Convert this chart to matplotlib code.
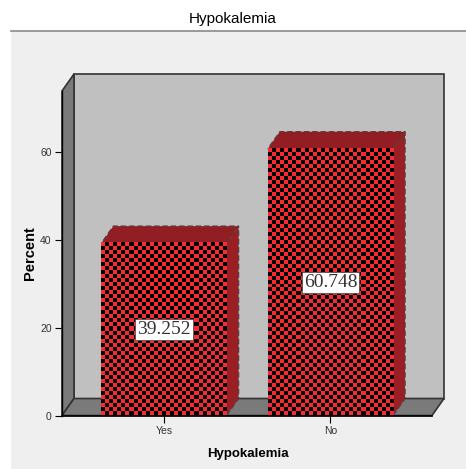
import matplotlib
matplotlib.use("Agg")
import matplotlib.pyplot as plt
import numpy as np
from matplotlib.patches import Polygon, Rectangle

plt.rcParams["font.family"] = ["Liberation Sans", "DejaVu Sans"]

categories = ["Yes", "No"]
percents = [39.252, 60.748]
y_ticks = [0, 20, 40, 60]
title = "Hypokalemia"

W, H = 466, 469
# front plane of the 3D box, in pixels from the top left
LEFT, RIGHT, TOP, BOTTOM = 62, 432, 91, 415.5
BAR_W = 0.752
XLIM = (-0.6126, 1.61)
YMAX = 73.9
DX = 12 / (RIGHT - LEFT) * (XLIM[1] - XLIM[0])
DY = 17 / (BOTTOM - TOP) * YMAX

fig = plt.figure(figsize=(W / 100, H / 100), dpi=100, facecolor="white")
fig.add_artist(Rectangle((11 / W, 0), 1 - 11 / W, 1 - 31 / H, transform=fig.transFigure,
                         facecolor="#efefef", edgecolor="none", zorder=-2))
fig.add_artist(plt.Line2D([11 / W, 1], [1 - 31 / H] * 2, color="#8a8a8a", lw=1.2, zorder=-1))
fig.text(233 / W, 1 - 19 / H, title, ha="center", va="center", fontsize=11, color="black")

ax = fig.add_axes([LEFT / W, 1 - BOTTOM / H, (RIGHT - LEFT) / W, (BOTTOM - TOP) / H])
ax.set_xlim(*XLIM)
ax.set_ylim(0, YMAX)
ax.patch.set_visible(False)
for name in ["top", "right"]:
    ax.spines[name].set_visible(False)
ax.spines["left"].set_linewidth(1.0)
ax.spines["bottom"].set_linewidth(1.2)
ax.spines["left"].set_zorder(6)
ax.spines["bottom"].set_zorder(6)

x0, x1 = XLIM


def box_poly(points, color, z, edge="#333333", lw=1.2, ls="-"):
    ax.add_patch(Polygon(points, closed=True, facecolor=color, edgecolor=edge, linewidth=lw,
                         linestyle=ls, clip_on=False, zorder=z))


# walls and floor
box_poly([(x0 + DX, DY), (x1 + DX, DY), (x1 + DX, YMAX + DY), (x0 + DX, YMAX + DY)], "#c0c0c0", 1)
box_poly([(x0, 0), (x0 + DX, DY), (x0 + DX, YMAX + DY), (x0, YMAX)], "#7a7a7a", 2)
box_poly([(x0, 0), (x1, 0), (x1 + DX, DY), (x0 + DX, DY)], "#7a7a7a", 2)

for i, (cat, val) in enumerate(zip(categories, percents)):
    l, r = i - BAR_W / 2, i + BAR_W / 2
    # top and side faces
    box_poly([(l, val), (r, val), (r + DX, val + DY), (l + DX, val + DY)], "#921d22", 3,
             edge="#5c3a3c", lw=1.0, ls=(0, (4, 2)))
    box_poly([(r, 0), (r + DX, DY), (r + DX, val + DY), (r, val)], "#9a1f24", 3,
             edge="#5c3a3c", lw=1.0, ls=(0, (4, 2)))
    # checkered front face, cells about 4 px
    px_w = BAR_W / (XLIM[1] - XLIM[0]) * (RIGHT - LEFT)
    px_h = val / YMAX * (BOTTOM - TOP)
    nx, ny = int(round(px_w / 4)), int(round(px_h / 4))
    yy, xx = np.indices((ny, nx))
    check = np.zeros((ny, nx, 3))
    check[(xx + yy) % 2 == 0] = matplotlib.colors.to_rgb("#fa2a32")
    ax.imshow(check, extent=(l, r, 0, val), origin="lower", aspect="auto",
              interpolation="nearest", zorder=4)
    ax.text(i, val / 2 - 0.1, f"{val:.3f}", ha="center", va="center", zorder=5,
            fontsize=14, family="Liberation Serif", color="#333333",
            bbox=dict(boxstyle="square,pad=0.1", facecolor="white", edgecolor="#444444", linewidth=0.5))

ax.set_xlim(*XLIM)
ax.set_ylim(0, YMAX)
ax.set_xticks(range(len(categories)), categories)
ax.set_yticks(y_ticks)
ax.tick_params(axis="both", labelsize=7.5, length=5, width=0.8, pad=2.5, labelcolor="#333333")
fig.text(247.5 / W, 1 - 454 / H, title, ha="center", va="center", fontsize=9.5, fontweight="bold")
fig.text(30 / W, 1 - 253 / H, "Percent", rotation=90, ha="center", va="center",
         fontsize=10.5, fontweight="bold")

fig.savefig("out.png", dpi=100, facecolor="white")
plt.close(fig)
